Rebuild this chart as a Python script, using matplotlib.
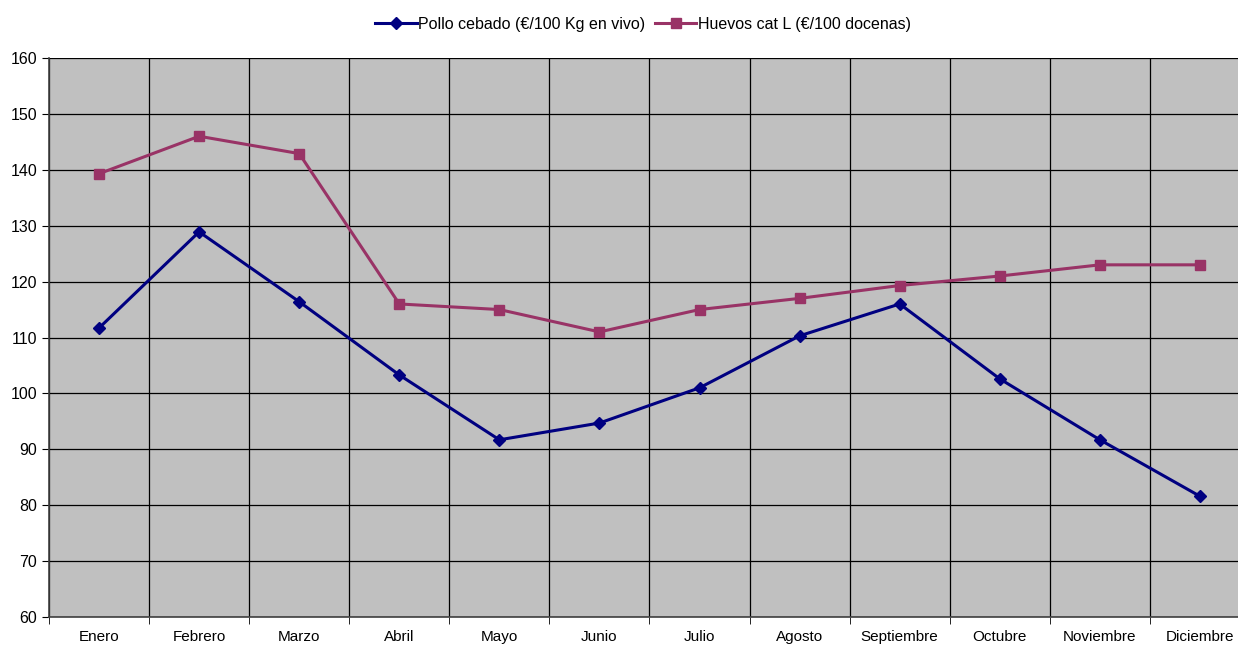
import matplotlib
matplotlib.use("Agg")
import matplotlib.pyplot as plt
import numpy as np

meses = ["Enero", "Febrero", "Marzo", "Abril", "Mayo", "Junio", "Julio",
         "Agosto", "Septiembre", "Octubre", "Noviembre", "Diciembre"]
pollo = [111.7, 128.9, 116.4, 103.3, 91.7, 94.7, 101.0, 110.3, 116.0, 102.6, 91.7, 81.6]
huevos = [139.3, 146.0, 142.9, 116.0, 115.0, 111.0, 115.0, 117.0, 119.3, 121.0, 123.0, 123.0]

plt.rcParams["font.family"] = ["Liberation Sans", "DejaVu Sans"]

fig = plt.figure(figsize=(12.38, 6.46), dpi=100)
# el area del grafico se sale un poco por la derecha, como en el original
ax = fig.add_axes([49 / 1238, 29 / 646, 1201 / 1238, 559 / 646])
ax.set_facecolor("#C0C0C0")

x = np.arange(len(meses))
ax.plot(x, pollo, color="#000080", lw=2.2, marker="D", ms=6.5,
        label="Pollo cebado (€/100 Kg en vivo)")
ax.plot(x, huevos, color="#993366", lw=2.2, marker="s", ms=7.5,
        label="Huevos cat L (€/100 docenas)")

ax.set_xlim(-0.5, len(meses) - 0.5)
ax.set_ylim(60, 160)
ax.set_yticks(range(60, 161, 10))
ax.set_xticks(x)
ax.set_xticklabels(meses)
ax.set_xticks(np.arange(-0.5, len(meses), 1), minor=True)
ax.tick_params(axis="x", which="major", length=0, pad=9.5, labelsize=11)
ax.tick_params(axis="x", which="minor", length=5, color="black")
ax.tick_params(axis="y", length=5, labelsize=11.5)

ax.grid(axis="y", which="major", color="black", lw=0.9)
ax.grid(axis="x", which="minor", color="black", lw=0.9)
ax.set_axisbelow(True)

for s in ["top", "right"]:
    ax.spines[s].set_visible(False)
ax.spines["left"].set_color("#404040")
ax.spines["bottom"].set_color("#404040")
ax.spines["left"].set_linewidth(1.2)
ax.spines["bottom"].set_linewidth(1.2)

leg = ax.legend(loc="lower center", bbox_to_anchor=(0.5 * 1188 / 1201, 1.035), ncol=2,
                frameon=False, fontsize=11.5, handlelength=2.6, columnspacing=0.6,
                handletextpad=0.1, borderaxespad=0)

fig.savefig("out.png", dpi=100)
